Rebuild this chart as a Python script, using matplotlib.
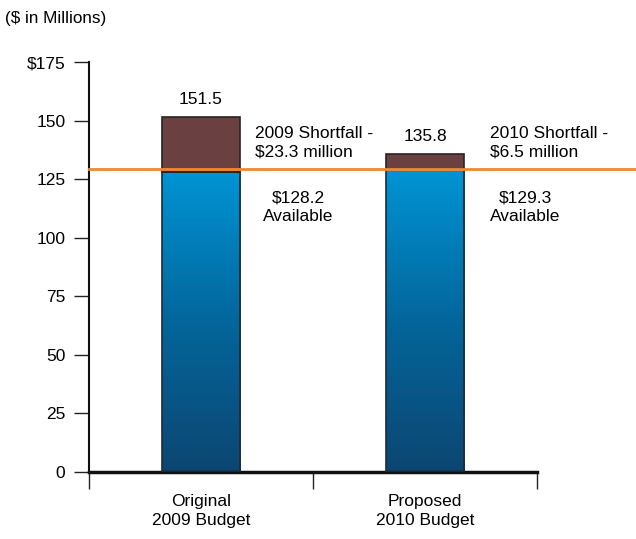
import matplotlib
matplotlib.use("Agg")
import matplotlib.pyplot as plt
import numpy as np
from matplotlib.colors import LinearSegmentedColormap

categories = ["Original\n2009 Budget", "Proposed\n2010 Budget"]
available = [128.2, 129.3]
totals = [151.5, 135.8]
shortfall_labels = ["2009 Shortfall -\n$23.3 million", "2010 Shortfall -\n$6.5 million"]
available_labels = ["$128.2\nAvailable", "$129.3\nAvailable"]
line_value = 129.3
yticks = [0, 25, 50, 75, 100, 125, 150, 175]
yticklabels = ["0", "25", "50", "75", "100", "125", "150", "$175"]

plt.rcParams['font.family'] = ['Liberation Sans', 'DejaVu Sans']

fig = plt.figure(figsize=(6.36, 5.39), dpi=100)
ax = fig.add_axes([89/636, 67/539, 448/636, 410/539])

x = np.arange(len(categories))
width = 0.35
cmap = LinearSegmentedColormap.from_list("bl", ["#0C4672", "#03669B", "#0094D4"])
grad = np.linspace(0, 1, 256).reshape(-1, 1)

short_dx = [0.24, 0.29]
avail_dx = [0.435, 0.447]

for i in range(len(categories)):
    bar = ax.bar(x[i], available[i], width, color="none", edgecolor="#1f2b36", linewidth=1.2, zorder=3)[0]
    im = ax.imshow(grad, extent=[x[i]-width/2, x[i]+width/2, 0, available[i]], origin="lower",
                   aspect="auto", cmap=cmap, zorder=2)
    im.set_clip_path(bar)
    ax.bar(x[i], totals[i]-available[i], width, bottom=available[i], color="#6B4040",
           edgecolor="#2a2222", linewidth=1.2, zorder=3)
    ax.text(x[i], totals[i] + 7.3, f"{totals[i]:.1f}", ha="center", va="center", fontsize=12.5)
    ax.text(x[i] + short_dx[i], 140.5, shortfall_labels[i], ha="left", va="center",
            fontsize=12.5, linespacing=1.25)
    ax.text(x[i] + avail_dx[i], 113, available_labels[i], ha="center", va="center",
            fontsize=12.5, linespacing=1.25)

ax.axhline(line_value, xmin=0, xmax=(636-89)/448, color="#F08A30", linewidth=2, clip_on=False, zorder=5)

ax.set_xlim(-0.5, 1.5)
ax.set_ylim(0, 175)
ax.set_yticks(yticks)
ax.set_yticklabels(yticklabels, fontsize=12.5)
ax.set_xticks(x)
ax.set_xticklabels(categories, fontsize=12.5, linespacing=1.35, va="top")
ax.set_xticks([-0.5, 0.5, 1.5], minor=True)
ax.tick_params(axis="x", which="major", length=0, pad=16)
ax.tick_params(axis="x", which="minor", length=12, width=1, color="#222")
ax.tick_params(axis="y", length=11, width=1, color="#222", pad=6)

for s in ["top", "right"]:
    ax.spines[s].set_visible(False)
ax.spines["left"].set_linewidth(1.5)
ax.spines["bottom"].set_linewidth(2.5)
ax.spines["left"].set_color("#111")
ax.spines["bottom"].set_color("#111")

fig.text(5/636, 1 - 18/539, "($ in Millions)", ha="left", va="center", fontsize=12.3)

fig.savefig("out.png", dpi=100)
